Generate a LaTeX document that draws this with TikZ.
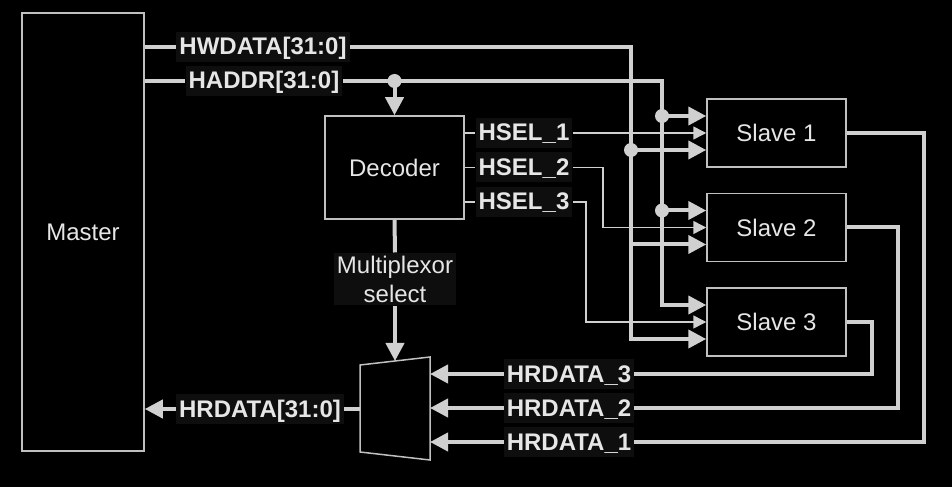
\documentclass[tikz,border=0pt]{standalone}
\usepackage{fontspec}
\setmainfont{Liberation Sans}
\usetikzlibrary{arrows.meta,positioning,calc}
\definecolor{wirecol}{RGB}{208,208,208}
\definecolor{edgecol}{RGB}{192,192,192}
\definecolor{txtcol}{RGB}{230,230,230}
\definecolor{tagbg}{RGB}{14,14,14}
\tikzset{
    unitbox/.style={draw=edgecol, line width=1.5bp, fill=black, text=txtcol,
        font=\fontsize{24bp}{29bp}\selectfont, inner sep=0pt},
    sigtag/.style={fill=tagbg, text=txtcol, font=\fontsize{24bp}{29bp}\selectfont\bfseries,
        inner sep=3bp, text height=20bp, text depth=4bp},
    plaintag/.style={fill=tagbg, text=txtcol, font=\fontsize{24bp}{29bp}\selectfont,
        inner sep=3bp, align=center},
    bus/.style={draw=wirecol, line width=4bp},
    busarrow/.style={bus, -{Triangle[length=18bp,width=18bp]}},
    selwire/.style={draw=wirecol, line width=1.5bp},
    selarrow/.style={selwire, -{Triangle[length=13bp,width=13bp]}},
    tap/.style={circle, fill=wirecol, inner sep=0pt, minimum size=14bp}
}

\begin{document}
\begin{tikzpicture}[x=1bp, y=-1bp]
\fill[black] (0,0) rectangle (952,487);
\useasboundingbox (0,0) rectangle (952,487);

% blocks
\node[unitbox, minimum width=122bp, minimum height=438bp] (master) at (83,232) {Master};
\node[unitbox, minimum width=139bp, minimum height=103bp] (decoder) at (394.5,167.5) {Decoder};
\node[unitbox, minimum width=139bp, minimum height=68bp] (slave1) at (776.5,133) {Slave 1};
\node[unitbox, minimum width=139bp, minimum height=68bp, below=25bp of slave1] (slave2) {Slave 2};
\node[unitbox, minimum width=139bp, minimum height=68bp, below=25bp of slave2] (slave3) {Slave 3};
\draw[draw=edgecol, line width=1.5bp, fill=black] (360,365) coordinate (mux-tl) -- (430,357) coordinate (mux-tr)
    -- (430,460) coordinate (mux-br) -- (360,452) coordinate (mux-bl) -- cycle;
\coordinate (mux-sel) at (395,361);
\coordinate (mux-out) at (360,409);

% signal names
\node[sigtag] (hwdata) at (263,47) {HWDATA[31:0]};
\node[sigtag] (haddr) at (264,81) {HADDR[31:0]};
\node[sigtag] (hrdata) at (260,409) {HRDATA[31:0]};
\node[sigtag] (hsel1) at (524,133) {HSEL\_1};
\node[sigtag] (hsel2) at (524,167.5) {HSEL\_2};
\node[sigtag] (hsel3) at (524,202) {HSEL\_3};
\node[sigtag] (hrd3) at (569,374) {HRDATA\_3};
\node[sigtag] (hrd2) at (569,408) {HRDATA\_2};
\node[sigtag] (hrd1) at (569,442) {HRDATA\_1};

% bus columns and slave inputs
\coordinate (wbus) at (631,47);
\coordinate (abus) at (662,81);
\coordinate (sel2x) at (603,0);
\coordinate (sel3x) at (586,0);
\coordinate (ret3x) at (872,0);
\coordinate (ret2x) at (898,0);
\coordinate (ret1x) at (924,0);
\coordinate (s1a) at ($(slave1.west)+(0,-17)$);
\coordinate (s1w) at ($(slave1.west)+(0,17)$);
\coordinate (s2a) at ($(slave2.west)+(0,-17)$);
\coordinate (s2w) at ($(slave2.west)+(0,17)$);
\coordinate (s3a) at ($(slave3.west)+(0,-17)$);
\coordinate (s3w) at ($(slave3.west)+(0,17)$);

% write data and address
\draw[bus] (master.east |- hwdata) -- (hwdata.west);
\draw[bus] (master.east |- haddr) -- (haddr.west);
\draw[busarrow] (hwdata.east) -- (wbus) |- (s3w);
\draw[busarrow] (wbus |- s1w) -- (s1w);
\draw[busarrow] (wbus |- s2w) -- (s2w);
\draw[busarrow] (haddr.east) -- (abus) |- (s3a);
\draw[busarrow] (abus |- s1a) -- (s1a);
\draw[busarrow] (abus |- s2a) -- (s2a);
\draw[busarrow] (decoder.north |- haddr) -- (decoder.north);
\node[tap] (tap1) at (wbus |- s1w) {};
\node[tap] (tap2) at (abus |- s1a) {};
\node[tap] (tap3) at (abus |- s2a) {};
\node[tap] (tap4) at (decoder.north |- haddr) {};

% slave selects
\draw[selwire] (decoder.east |- hsel1) -- (hsel1.west);
\draw[selwire] (decoder.east |- hsel2) -- (hsel2.west);
\draw[selwire] (decoder.east |- hsel3) -- (hsel3.west);
\draw[selarrow] (hsel1.east) -- (slave1.west);
\draw[selarrow] (hsel2.east) -- (sel2x |- hsel2) |- (slave2.west);
\draw[selarrow] (hsel3.east) -- (sel3x |- hsel3) |- (slave3.west);

% multiplexor select
\node[plaintag] (muxsel) at (395,279) {Multiplexor\\select};
\draw[bus] (decoder.south) -- (muxsel.north);
\draw[busarrow] (muxsel.south) -- (mux-sel);

% read data
\draw[bus] (slave3.east) -- (ret3x |- slave3.east) |- (hrd3.east);
\draw[bus] (slave2.east) -- (ret2x |- slave2.east) |- (hrd2.east);
\draw[bus] (slave1.east) -- (ret1x |- slave1.east) |- (hrd1.east);
\draw[busarrow] (hrd3.west) -- (mux-tr |- hrd3);
\draw[busarrow] (hrd2.west) -- (mux-tr |- hrd2);
\draw[busarrow] (hrd1.west) -- (mux-tr |- hrd1);
\draw[bus] (mux-out) -- (hrdata.east);
\draw[busarrow] (hrdata.west) -- (master.east |- hrdata);
\end{tikzpicture}
\end{document}
